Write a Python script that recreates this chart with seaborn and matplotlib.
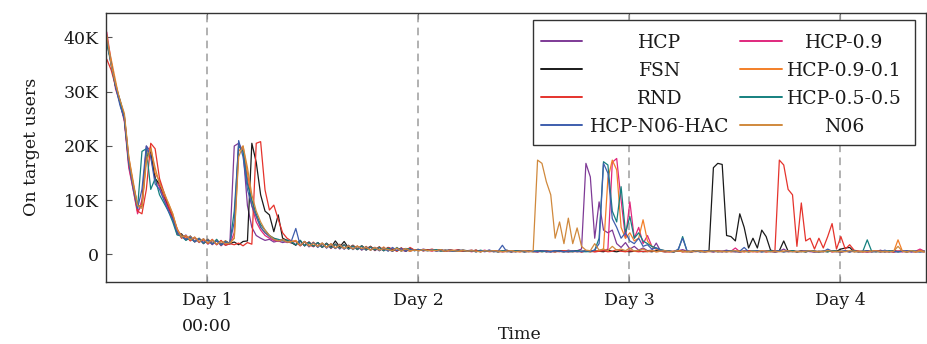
import numpy as np
import pandas as pd
import matplotlib
matplotlib.use("Agg")
import matplotlib.pyplot as plt
from matplotlib.patches import Rectangle
import seaborn as sns

# ---------------- data (values in thousands of users, one sample every 30 min) ----------------
T0_DAYS = 0.525
STEP_DAYS = 1 / 48

hcp = ([40, 35, 31.5, 28, 25, 16.5, 12, 8, 9, 20, 19, 14, 12.5, 10.5, 8.5, 6.5,
        4.3, 3.1, 3.6, 2.6, 3.1, 2.2, 2.9, 1.9, 2.6, 1.8, 2.5, 1.7]
       + [2.0, 20, 20.5, 19, 9, 5, 3.5, 3, 2.6, 2.8, 2.3, 2.5, 2.2, 2.4, 2.1]
       + [2.5, 1.6, 2.4, 1.4, 2.2, 1.5, 2.0, 1.2, 1.9,
          1.1, 1.8, 1.0, 1.6, 1.1, 1.5, 0.8, 1.4, 0.9,
          1.3, 0.7, 1.2, 0.9, 0.6, 1.2, 0.8, 1.1, 0.6,
          0.9, 0.7, 1.0, 0.8, 0.9, 0.7, 0.8, 0.6, 0.9,
          0.7, 0.8, 0.6, 0.7, 0.8, 0.6, 0.7, 0.5, 0.8,
          0.6, 0.7, 0.5, 0.6, 0.7, 0.5, 0.7, 0.6, 0.5]
       + [0.6, 0.5, 0.7, 0.6, 0.5, 0.7, 0.6, 0.5, 0.8, 0.6,
          0.7, 1.0, 16.8, 14.3, 3.0, 9.7, 4.5, 4.0, 4.5, 2.0,
          1.3, 2.2, 1.0, 1.5, 0.8, 1.2, 0.7, 0.8, 2.1, 0.6,
          0.7]
       + [0.6, 0.5, 0.7, 0.9, 0.6, 0.5, 0.7, 0.6, 0.5, 0.6,
          0.7, 0.5, 0.6, 0.8, 0.5, 0.6, 0.4, 0.7, 0.5, 0.6,
          0.5, 0.7, 0.5, 0.6, 0.4, 0.6, 1.0, 0.5, 0.6, 0.5,
          0.7, 0.5, 0.6, 0.4, 0.6, 0.5, 0.7, 0.5, 0.6, 0.4,
          0.6, 0.5, 0.7, 0.5, 0.6, 0.4, 0.6, 0.5, 0.8, 0.5,
          0.6, 0.4, 0.6, 0.5, 0.7, 0.5, 0.6, 0.5, 0.6])

fsn = ([39, 35.5, 31, 28.5, 25.5, 17.5, 13, 9, 9, 18, 19, 14, 13, 11, 9, 7,
        4.0, 3.8, 2.7, 3.4, 2.4, 2.9, 2.1, 2.8, 2.0, 2.6, 1.9, 2.5]
       + [2.0, 2.3, 1.8, 2.4, 2.5, 20.5, 17, 11, 8, 7.3, 4.2, 7.3, 3, 2.6, 2.2]
       + [1.7, 2.6, 1.6, 2.3, 1.5, 2.2, 1.4, 2.1, 1.3,
          2.5, 1.4, 2.4, 1.2, 1.7, 1.0, 1.6, 1.0, 1.5,
          0.8, 1.4, 0.7, 1.3, 0.9, 0.7, 1.2, 0.6, 1.1,
          0.8, 0.9, 0.7, 0.9, 0.8, 0.7, 0.9, 0.6, 0.8,
          0.7, 0.6, 0.8, 0.7, 0.6, 0.8, 0.5, 0.7, 0.6,
          0.7, 0.5, 0.6, 0.8, 0.5, 0.6, 0.7, 0.5, 0.6]
       + [0.5, 0.6, 0.7, 0.5, 0.6, 0.5, 0.7, 0.6, 0.5, 0.6,
          0.7, 0.5, 0.6, 0.5, 0.7, 0.6, 0.5, 0.8, 0.6, 0.5,
          0.7, 0.6, 0.5, 0.6, 0.7, 0.5, 0.6, 0.5, 0.7, 0.6,
          0.5]
       + [0.6, 0.5, 0.7, 0.6, 0.5, 0.6, 0.7, 0.5, 0.6,
          0.7, 16.0, 16.8, 16.6, 3.5, 3.3, 2.5, 7.5, 5.0, 1.2,
          3.0, 1.2, 4.5, 3.3, 0.8, 0.6, 0.7, 2.5, 0.6, 0.7,
          0.5, 0.6, 0.5, 0.7, 0.6, 0.5, 0.6, 0.5, 0.7, 0.6,
          1.0, 1.2, 1.3, 0.5, 0.6, 0.5, 0.7, 0.5, 0.6, 0.5,
          0.6, 0.5, 0.7, 0.5, 0.6, 0.5, 0.6, 0.5, 0.6, 0.5])

rnd = ([36, 34, 31, 28, 25, 17, 12.5, 8, 7.5, 12, 20.5, 19.5, 14, 11.5, 9, 7,
        4.8, 3.0, 3.4, 2.5, 3.2, 2.3, 2.7, 2.0, 2.8, 1.8, 2.6, 1.7]
       + [2.0, 1.8, 2.1, 1.6, 2.2, 1.9, 20.5, 20.8, 11.9, 8.2, 9.1, 6.5, 4.0, 3.0, 2.5]
       + [2.4, 1.6, 2.3, 1.7, 1.5, 2.1, 1.3, 2.0, 1.2,
          1.9, 1.2, 1.8, 1.0, 1.7, 1.0, 1.6, 0.9, 1.5,
          0.8, 1.4, 0.7, 1.3, 1.0, 0.6, 1.2, 0.7, 1.3,
          0.8, 0.9, 0.7, 0.8, 1.0, 0.7, 0.8, 0.6, 0.8,
          0.7, 0.9, 0.6, 0.7, 0.6, 0.8, 0.5, 0.7, 0.6,
          0.7, 0.5, 0.6, 0.7, 0.5, 0.6, 0.5, 0.7, 0.6]
       + [0.6, 0.5, 0.6, 0.7, 0.5, 0.6, 0.5, 0.7, 0.6, 0.5,
          0.6, 0.5, 0.7, 0.6, 0.5, 0.6, 0.7, 0.5, 0.6, 0.9,
          0.6, 0.5, 0.7, 0.6, 0.5, 0.6, 0.5, 0.7, 0.5, 0.6,
          0.5]
       + [0.5, 0.6, 0.7, 0.5, 0.6, 0.5, 0.6, 0.7, 0.5, 0.6,
          0.5, 0.6, 0.5, 0.7, 0.6, 0.5, 0.6, 0.5, 0.7, 0.6,
          0.5, 0.6, 0.5, 0.6,
          0.7, 17.4, 16.5, 12.0, 11.0, 1.5, 9.5, 2.5, 3.0, 1.0,
          3.0, 1.2, 3.3, 5.7, 1.0, 3.3, 1.0, 1.8, 0.8, 0.6,
          0.5, 0.6, 0.5, 0.7, 0.6, 0.5, 0.6, 0.5, 0.6, 0.7, 0.5, 0.6, 0.5, 0.6, 0.5])

hcp_n06_hac = ([40, 35, 31, 27.5, 25, 17, 12.5, 8.5, 12, 20, 18, 13, 12, 10, 8, 6.5,
                4.1, 3.3, 2.8, 3.2, 2.4, 2.9, 2.2, 2.7, 1.9, 2.5, 1.8, 2.3]
               + [2.1, 6, 21, 18, 12, 9, 7, 5, 4, 3.3, 2.8, 2.5, 2.7, 2.3, 2.5]
               + [4.8, 1.7, 2.4, 1.5, 2.2, 1.3, 2.1, 1.2, 1.9,
                  1.1, 1.8, 1.0, 1.7, 0.9, 1.5, 0.9, 1.4, 0.8,
                  1.3, 0.7, 1.2, 0.6, 1.3, 0.7, 1.1, 0.6, 1.0,
                  0.7, 0.9, 0.8, 0.7, 0.9, 0.6, 0.8, 0.7, 0.8,
                  0.6, 0.7, 0.8, 0.6, 0.7, 0.5, 0.7, 0.6, 0.8,
                  0.5, 0.6, 1.7, 0.5, 0.6, 0.5, 0.7, 0.6, 0.6]
               + [0.6, 0.5, 0.7, 0.6, 0.5, 0.7, 0.6, 0.5, 0.6, 0.7,
                  0.5, 0.6, 0.7, 0.6, 0.8, 2.0, 16.8, 15.0, 6.6, 5.0,
                  3.0, 4.0, 2.5, 2.0, 3.0, 1.5, 1.8, 1.0, 1.2, 0.8,
                  0.7]
               + [0.6, 0.5, 1.0, 3.0, 0.7, 0.5, 0.6, 0.5, 0.7, 0.6,
                  0.5, 0.6, 0.5, 0.7, 0.6, 0.5, 0.6, 1.3, 0.5, 0.6,
                  0.7, 0.5, 0.6, 0.5, 0.6, 0.7, 0.5, 0.6, 0.5, 0.6,
                  0.5, 0.7, 0.6, 0.5, 0.6, 0.5, 1.0, 0.6, 0.5, 0.6,
                  0.7, 0.5, 0.6, 0.5, 0.6, 0.7, 0.5, 0.6, 0.5, 0.8,
                  0.5, 0.6, 0.5, 0.6, 0.7, 0.5, 0.6, 0.5, 0.6])

hcp_09 = ([41, 35.5, 30.5, 28, 24.5, 16, 12, 7.5, 10, 19.5, 18, 14, 12.5, 10.5, 8.5, 6.8,
           3.7, 3.6, 2.8, 3.3, 2.3, 2.9, 2.0, 2.7, 1.8, 2.6, 1.6, 2.3]
          + [1.9, 4, 20, 19.5, 14, 9, 6, 4.5, 3.5, 3.0, 2.6, 2.4, 2.6, 2.2, 2.3]
          + [1.8, 2.5, 1.6, 2.3, 1.4, 2.2, 1.3, 2.0, 1.1,
             1.9, 1.0, 1.8, 1.0, 1.6, 0.9, 1.5, 0.8, 1.4,
             0.7, 1.3, 0.8, 1.2, 0.6, 1.2, 0.8, 0.6, 1.1,
             0.8, 0.9, 0.7, 0.8, 0.6, 0.9, 0.7, 0.8, 0.6,
             0.7, 0.8, 0.6, 0.7, 0.5, 0.7, 0.6, 0.8, 0.5,
             0.6, 0.7, 0.5, 0.6, 0.5, 0.7, 0.6, 0.5, 0.6]
          + [0.6, 0.5, 0.7, 0.5, 0.6, 0.5, 0.7, 0.6, 0.5, 0.6,
             0.7, 0.5, 0.6, 0.7, 0.5, 0.6, 0.7, 1.0, 17.0, 17.7,
             10.0, 3.0, 9.7, 3.0, 5.0, 2.0, 3.5, 1.5, 1.0, 0.8,
             0.6]
          + [0.5, 0.6, 0.7, 0.5, 0.6, 0.5, 0.7, 0.6, 0.5, 0.6,
             0.5, 0.7, 0.6, 0.5, 0.6, 1.2, 0.5, 0.6, 0.7, 0.5,
             0.6, 0.5, 0.7, 0.6, 0.5, 0.6, 0.5, 0.7, 0.6, 0.5,
             0.6, 0.7, 0.5, 0.6, 0.5, 0.6, 0.7, 0.5, 0.6, 0.5,
             0.6, 0.5, 0.7, 0.5, 0.6, 0.5, 0.6, 0.7, 0.5, 0.6,
             0.5, 0.7, 0.6, 0.5, 0.6, 0.5, 0.6, 1.0, 0.6])

hcp_09_01 = ([40, 36, 32, 28, 25.5, 18, 13.5, 9, 9, 18, 20, 15, 13.5, 11, 9.5, 7.5,
              4.6, 3.5, 3.0, 3.3, 2.5, 3.0, 2.2, 2.8, 2.0, 2.7, 1.8, 2.5]
             + [2.0, 3, 19, 20, 15, 10, 7, 5, 4, 3.5, 3.0, 2.6, 2.8, 2.4, 2.2]
             + [2.6, 1.7, 2.4, 1.5, 2.3, 1.4, 2.1, 1.3, 2.0,
                1.2, 1.9, 1.1, 1.7, 1.0, 1.6, 0.9, 1.5, 0.8,
                1.3, 0.8, 1.4, 0.7, 1.2, 0.6, 1.1, 0.8, 0.6,
                0.9, 0.7, 0.9, 0.8, 0.7, 0.9, 0.6, 0.8, 0.7,
                0.8, 0.6, 0.7, 0.6, 0.8, 0.5, 0.7, 0.6, 0.7,
                0.5, 0.7, 0.6, 0.5, 0.7, 0.6, 0.5, 0.6, 0.7]
             + [0.5, 0.6, 0.5, 0.7, 0.6, 0.5, 0.6, 0.5, 0.7, 0.6,
                0.5, 0.6, 0.7, 0.5, 0.6, 0.7, 1.0, 14.0, 17.4, 15.6,
                5.0, 3.0, 4.0, 2.5, 3.0, 6.4, 2.5, 1.5, 1.0, 0.8,
                0.7]
             + [0.6, 0.5, 0.7, 0.6, 0.5, 0.6, 0.5, 0.7, 0.6, 0.5,
                0.6, 0.7, 0.5, 0.6, 0.5, 0.6, 0.7, 0.5, 0.6, 0.5,
                0.7, 0.6, 0.5, 0.6, 0.5, 0.7, 0.6, 0.5, 0.6, 0.5,
                0.6, 0.5, 0.7, 0.6, 0.5, 0.6, 0.8, 0.5, 0.6, 0.5,
                0.7, 0.6, 0.5, 0.6, 0.5, 0.6, 0.7, 0.5, 0.6, 0.5,
                0.6, 0.5, 2.7, 0.6, 0.5, 0.6, 0.5, 0.7, 0.6])

hcp_05_05 = ([39, 35, 31, 28, 25, 17, 12.5, 8.5, 19, 19.5, 12, 14, 11, 9.5, 8, 6,
              3.6, 3.4, 2.6, 3.1, 2.3, 3.0, 2.0, 2.7, 1.9, 2.8, 1.7, 2.4]
             + [2.0, 8, 20, 19, 13, 10, 7.5, 5.5, 4.5, 3.5, 3.0, 2.8, 2.5, 2.7, 2.3]
             + [1.8, 2.6, 1.6, 2.2, 1.5, 2.2, 1.3, 2.0, 1.2,
                1.9, 1.1, 1.8, 1.0, 1.6, 0.9, 1.6, 0.8, 1.4,
                0.8, 1.3, 0.7, 1.2, 0.6, 1.3, 0.6, 1.1, 1.0,
                0.7, 0.9, 0.8, 0.7, 0.8, 0.9, 0.6, 0.8, 0.7,
                0.6, 0.8, 0.7, 0.6, 0.7, 0.5, 0.8, 0.6, 0.7,
                0.6, 0.5, 0.7, 0.6, 0.5, 0.7, 0.6, 0.5, 0.6]
             + [0.6, 0.7, 0.5, 0.6, 0.5, 0.7, 0.6, 0.5, 0.6, 0.5,
                0.7, 0.6, 0.5, 0.6, 0.8, 3.0, 17.1, 16.5, 8.0, 6.0,
                12.5, 4.0, 7.0, 3.0, 4.0, 2.5, 2.0, 1.5, 1.2, 0.9,
                0.7]
             + [0.6, 0.5, 0.8, 3.3, 0.6, 0.5, 0.7, 0.6, 0.5, 0.6,
                0.7, 0.5, 0.6, 0.5, 0.7, 0.6, 0.5, 0.6, 0.5, 0.7,
                0.6, 0.5, 0.6, 0.7, 0.5, 0.6, 0.5, 0.6, 0.7, 0.5,
                0.6, 0.5, 0.7, 0.6, 0.5, 0.6, 0.5, 0.7, 0.6, 0.5,
                0.6, 0.5, 0.7, 0.5, 0.6, 2.7, 0.6, 0.5, 0.6, 0.5,
                0.7, 0.6, 0.5, 0.6, 0.5, 0.7, 0.6, 0.5, 0.6])

n06 = ([40.5, 35, 31.5, 28.5, 26, 18, 13, 9, 8.5, 17, 19.5, 16, 13, 11.5, 9.5, 7.5,
        4.7, 3.2, 3.5, 2.7, 3.2, 2.3, 2.9, 2.1, 2.7, 1.9, 2.4, 2.0]
       + [2.1, 3, 18, 20, 16, 11, 8, 6, 4.5, 3.5, 2.8, 2.5, 2.7, 2.3, 2.4]
       + [2.5, 1.7, 2.4, 1.6, 2.0, 1.5, 2.1, 1.3, 1.9,
          1.2, 1.7, 1.1, 1.6, 1.0, 1.5, 1.1, 1.3, 0.8,
          1.3, 0.8, 1.1, 0.9, 0.7, 1.2, 0.6, 1.1, 0.7,
          0.8, 0.7, 0.9, 0.7, 0.8, 0.7, 0.9, 0.6, 0.8,
          0.7, 0.6, 0.8, 0.6, 0.7, 0.6, 0.5, 0.7, 0.6,
          0.7, 0.6, 0.5, 0.6, 0.7, 0.5, 0.6, 0.7, 0.5]
       + [0.7, 17.4, 16.8, 13.4, 11.0, 3.0, 6.0, 2.0, 6.7, 2.0,
          4.9, 1.5, 0.8, 0.7, 2.0, 0.8, 1.0, 0.7, 1.5, 0.8,
          1.0, 0.7, 1.2, 0.6, 0.8, 1.0, 0.6, 0.7, 0.5, 0.6,
          0.7]
       + [0.5, 0.6, 0.7, 0.5, 0.6, 0.5, 0.7, 0.6, 0.5, 0.6,
          0.7, 0.5, 0.6, 0.5, 0.6, 0.7, 0.5, 0.6, 0.5, 0.6,
          0.5, 0.7, 0.6, 0.5, 0.6, 0.5, 0.6, 0.7, 0.5, 0.6,
          0.5, 0.6, 0.7, 0.5, 0.6, 0.5, 0.7, 0.6, 0.5, 0.6,
          0.5, 0.7, 0.6, 0.5, 0.6, 0.5, 0.6, 0.7, 0.5, 0.6,
          0.5, 0.6, 1.5, 0.6, 0.5, 0.7, 0.5, 0.6, 0.5])

series_names = ["HCP", "HCP-0.9", "FSN", "HCP-0.9-0.1", "RND", "HCP-0.5-0.5", "HCP-N06-HAC", "N06"]
series_values = [hcp, hcp_09, fsn, hcp_09_01, rnd, hcp_05_05, hcp_n06_hac, n06]
series_colors = ["#7E3A96", "#E0287D", "#1A1A1A", "#F37F28", "#E5332C", "#15807F", "#3E5EAD", "#D0893C"]

x_ticks = [1, 2, 3, 4]
x_tick_labels = ["Day 1\n00:00", "Day 2", "Day 3", "Day 4"]
y_ticks = [0, 10, 20, 30, 40]
y_tick_labels = ["0", "10K", "20K", "30K", "40K"]

# ---------------- frame ----------------
records = []
for name, vals in zip(series_names, series_values):
    for i, v in enumerate(vals):
        records.append((T0_DAYS + i * STEP_DAYS, v, name))
df = pd.DataFrame(records, columns=["time", "users", "series"])
palette = dict(zip(series_names, series_colors))

sns.set_theme(style="ticks")
plt.rcParams["font.family"] = ["DejaVu Serif"]
plt.rcParams["mathtext.fontset"] = "dejavuserif"
TXT = "#1a1a1a"
FS = 12.5

fig = plt.figure(figsize=(9.27, 3.44), dpi=100)
ax = fig.add_axes([106 / 927, 1 - 282 / 344, 820 / 927, 269.3 / 344])

for d in x_ticks:
    ax.axvline(d, color="#9c9c9c", lw=1.1, ls=(0, (5, 3.5)), zorder=1)

sns.lineplot(data=df, x="time", y="users", hue="series", hue_order=series_names,
             palette=palette, estimator=None, linewidth=0.9, legend=False,
             ax=ax, zorder=2)

ax.set_xlim(0.5213, 4.4076)
ax.set_ylim(-5.07, 44.57)
ax.set_xticks(x_ticks)
ax.set_xticklabels(x_tick_labels, fontsize=FS, color=TXT)
for lab in ax.get_xticklabels():
    lab.set_linespacing(1.68)
ax.set_yticks(y_ticks)
ax.set_yticklabels(y_tick_labels, fontsize=FS, color=TXT)
ax.tick_params(axis="x", direction="in", length=4.5, width=0.8, color="#555555",
               top=True, pad=7.5)
ax.tick_params(axis="y", direction="in", length=4.5, width=0.8, color="#555555",
               right=False, pad=5)
for s in ax.spines.values():
    s.set_color("#333333")
    s.set_linewidth(1.0)
    s.set_visible(True)

ax.set_xlabel("Time", fontsize=FS, color=TXT)
ax.xaxis.set_label_coords((520 - 106) / 820, (282 - 326) / 269.3)
ax.set_ylabel("On target users", fontsize=FS, color=TXT)
ax.yaxis.set_label_coords((40 - 106) / 820, 0.5)

# ---------------- legend (two columns, centred labels) ----------------
ax.add_patch(Rectangle((0.5207, 0.5087), 0.4659, 0.4642, transform=ax.transAxes,
                       facecolor="white", edgecolor="#333333", lw=1.0, zorder=5))
row_y = [0.8949, 0.7909, 0.6870, 0.5830]
col_line = [(0.5305, 0.5805), (0.7732, 0.8244)]
col_text = [0.6756, 0.9000]
for k, (name, col) in enumerate(zip(series_names, series_colors)):
    r, c = divmod(k, 2)
    ax.plot(col_line[c], [row_y[r], row_y[r]], transform=ax.transAxes, color=col,
            lw=1.4, zorder=6, clip_on=False)
    ax.text(col_text[c], row_y[r], name, transform=ax.transAxes, ha="center",
            va="center_baseline", fontsize=13.5, color=TXT, zorder=7)

fig.savefig("out.png", dpi=100)
